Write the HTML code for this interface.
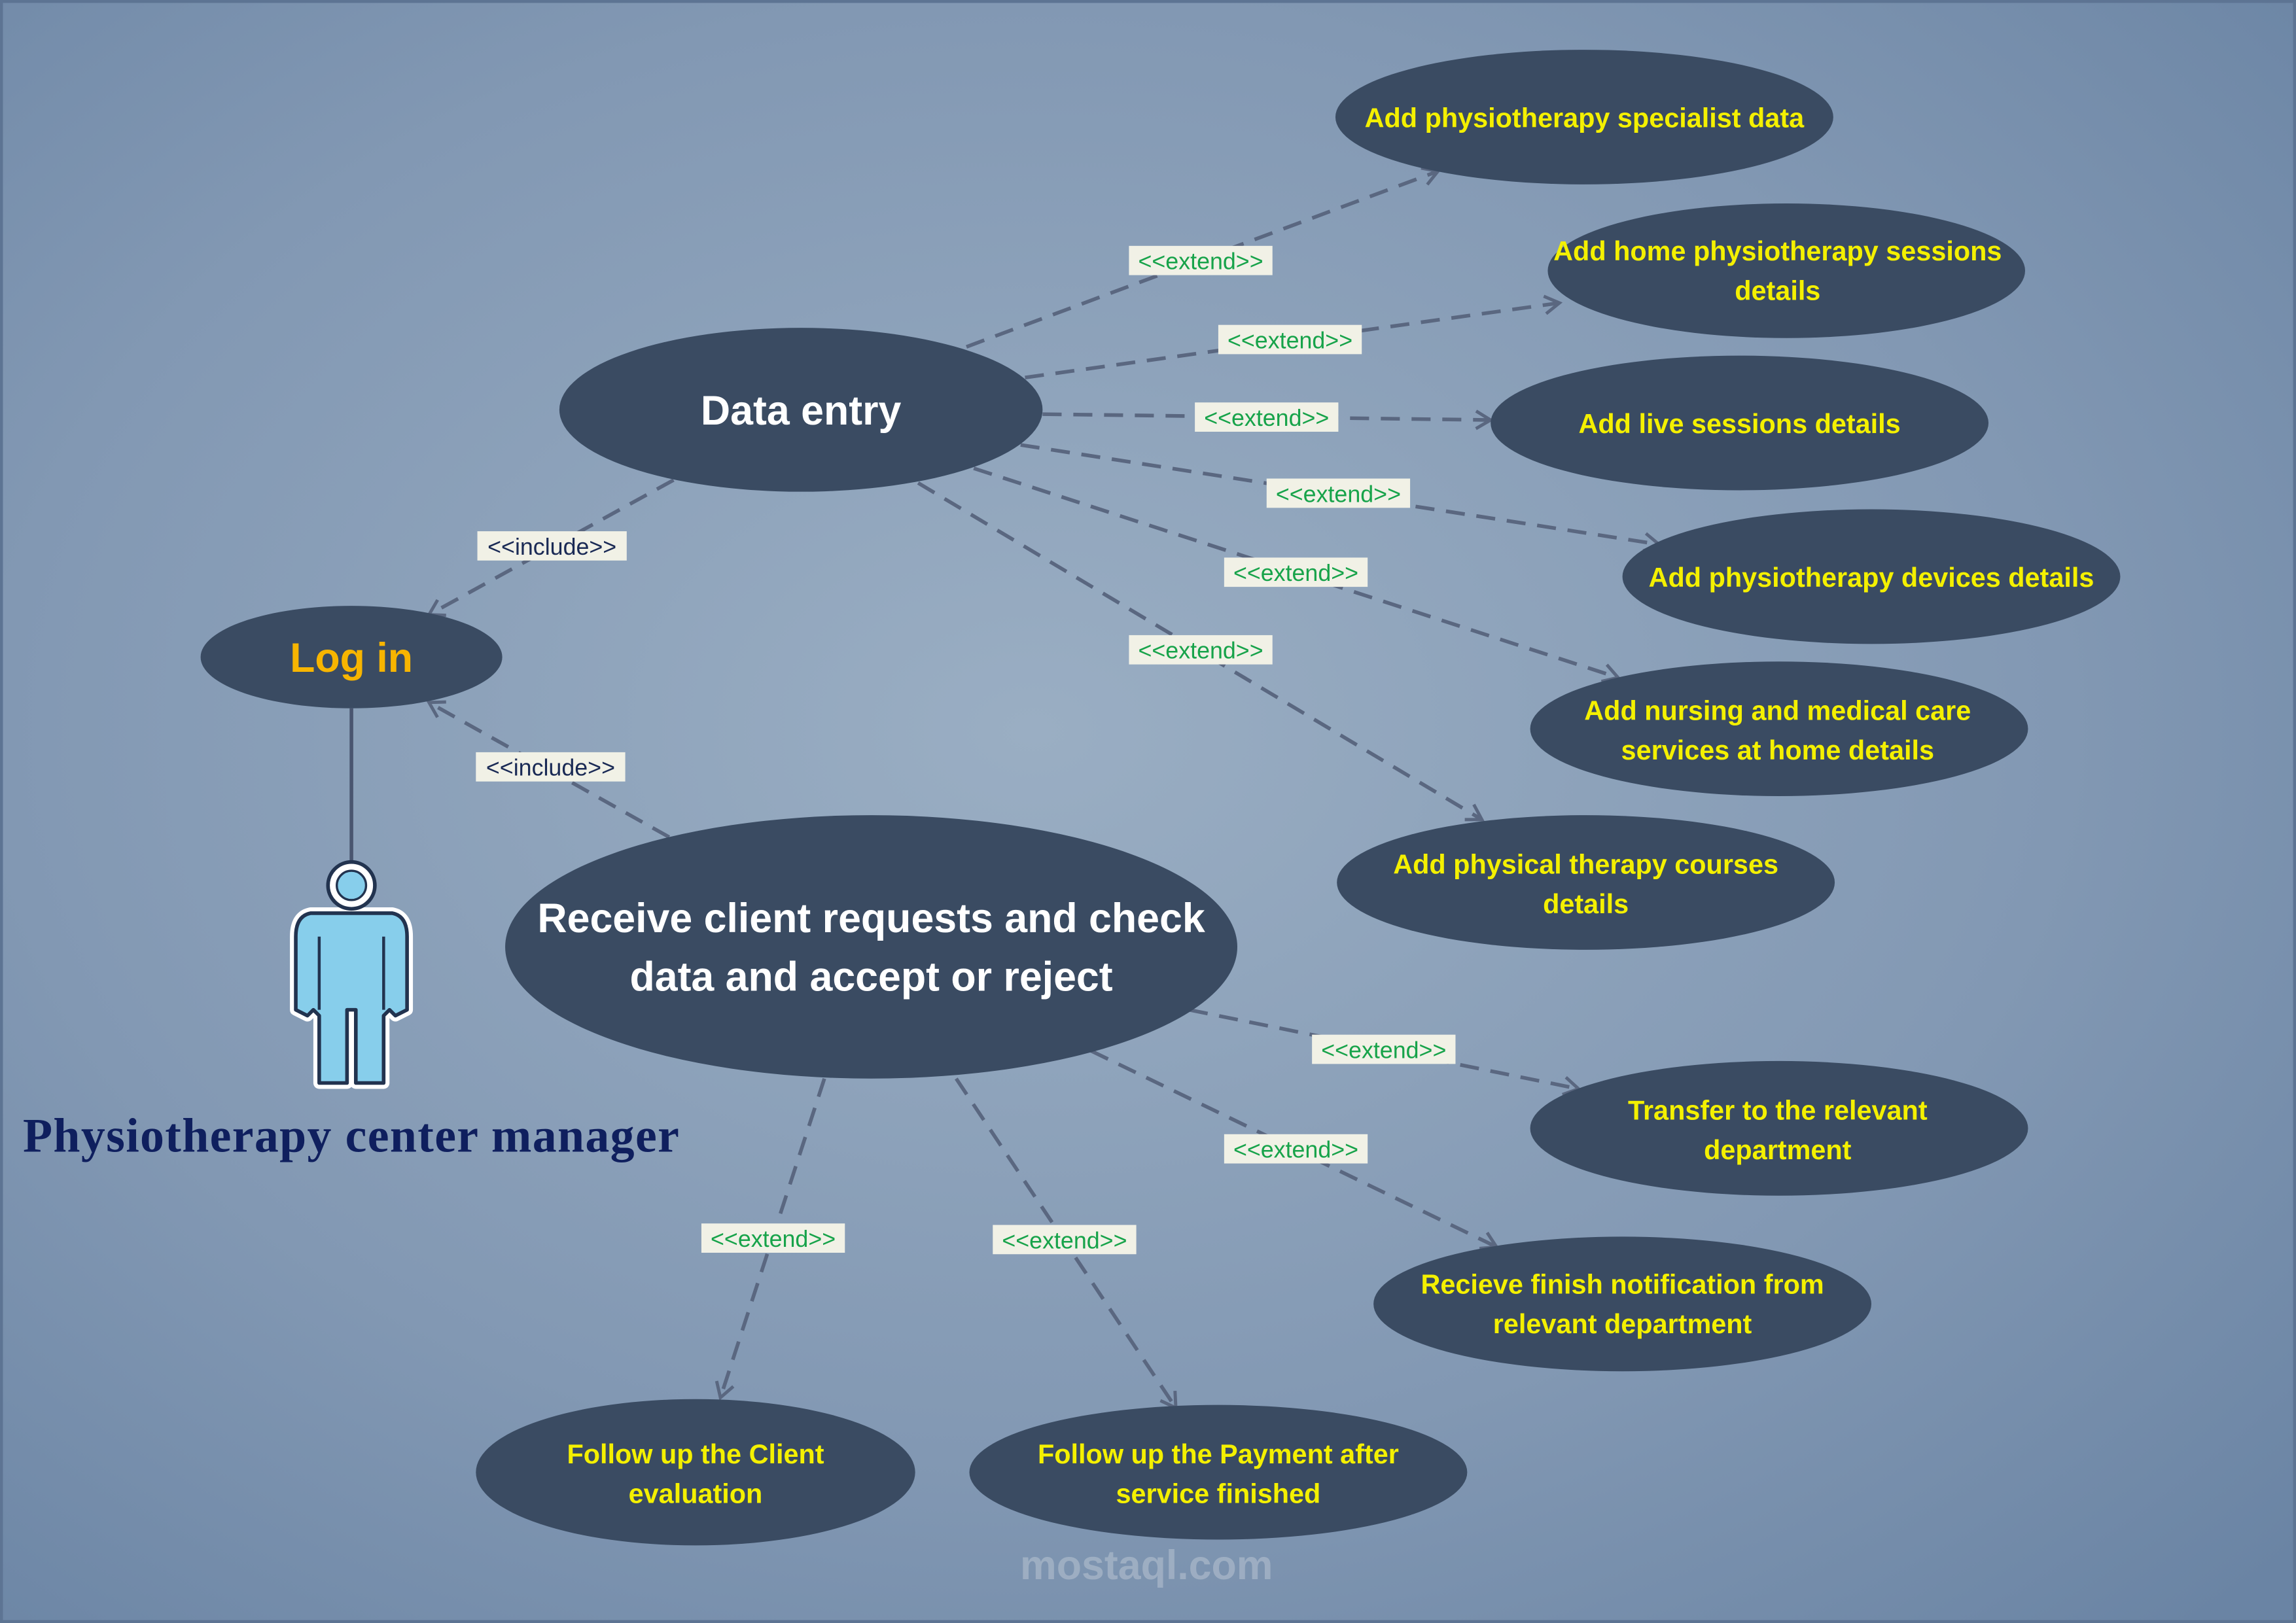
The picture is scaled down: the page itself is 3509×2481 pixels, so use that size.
<!DOCTYPE html>
<html><head><meta charset="utf-8"><style>
html,body{margin:0;padding:0;width:3509px;height:2481px;overflow:hidden}
svg{display:block}
</style></head><body>
<svg width="3509" height="2481" viewBox="0 0 1568 1109" preserveAspectRatio="none" xmlns="http://www.w3.org/2000/svg" font-family="'Liberation Sans', sans-serif">
<defs>
<radialGradient id="bg" cx="0.45" cy="0.45" r="0.75">
<stop offset="0" stop-color="#9aaec3"/>
<stop offset="0.6" stop-color="#8298b3"/>
<stop offset="1" stop-color="#6a84a4"/>
</radialGradient>
<marker id="ar" markerWidth="14" markerHeight="14" refX="11" refY="7" orient="auto" markerUnits="userSpaceOnUse">
<path d="M1,1 L11,7 L1,13" fill="none" stroke="#5a6780" stroke-width="2.2"/>
</marker>
</defs>
<rect x="0" y="0" width="1568" height="1109" fill="url(#bg)"/>
<rect x="1" y="1" width="1566" height="1107" fill="none" stroke="#5d7493" stroke-width="2"/>

<g stroke="#5a6780" stroke-width="2.5" stroke-dasharray="13 8" fill="none" marker-end="url(#ar)">
<line x1="660" y1="237" x2="982" y2="117"/>
<line x1="700" y1="258" x2="1065" y2="207"/>
<line x1="712" y1="283" x2="1018" y2="287"/>
<line x1="697" y1="304" x2="1133" y2="372"/>
<line x1="665" y1="320" x2="1105" y2="463"/>
<line x1="627" y1="330" x2="1012" y2="560"/>
<line x1="460" y1="328" x2="293" y2="420"/>
<line x1="457" y1="572" x2="293" y2="480"/>
<line x1="812" y1="690" x2="1078" y2="744"/>
<line x1="745" y1="718" x2="1022" y2="852"/>
<line x1="563" y1="737" x2="492" y2="955"/>
<line x1="653" y1="737" x2="803" y2="962"/>
</g>
<line x1="240" y1="484" x2="240" y2="590" stroke="#4a5670" stroke-width="2.5"/>

<g fill="#3a4b62">
<ellipse cx="547" cy="280" rx="165" ry="56"/>
<ellipse cx="240" cy="449" rx="103" ry="35"/>
<ellipse cx="595" cy="647" rx="250" ry="90"/>
<ellipse cx="1082" cy="80" rx="170" ry="46"/>
<ellipse cx="1220" cy="185" rx="163" ry="46"/>
<ellipse cx="1188" cy="289" rx="170" ry="46"/>
<ellipse cx="1278" cy="394" rx="170" ry="46"/>
<ellipse cx="1215" cy="498" rx="170" ry="46"/>
<ellipse cx="1083" cy="603" rx="170" ry="46"/>
<ellipse cx="1215" cy="771" rx="170" ry="46"/>
<ellipse cx="1108" cy="891" rx="170" ry="46"/>
<ellipse cx="475" cy="1006" rx="150" ry="50"/>
<ellipse cx="832" cy="1006" rx="170" ry="46"/>
</g>

<g text-anchor="middle" font-weight="bold">
<text x="547" y="290" fill="#fff" font-size="28">Data entry</text>
<text x="240" y="459" fill="#f7b500" font-size="28">Log in</text>
<text x="595" y="637" fill="#fff" font-size="28">Receive client requests and check</text>
<text x="595" y="677" fill="#fff" font-size="28">data and accept or reject</text>
<g fill="#f4f000" font-size="18.5">
<text x="1082" y="87">Add physiotherapy specialist data</text>
<text x="1214" y="178">Add home physiotherapy sessions</text>
<text x="1214" y="205">details</text>
<text x="1188" y="296">Add live sessions details</text>
<text x="1278" y="401">Add physiotherapy devices details</text>
<text x="1214" y="492">Add nursing and medical care</text>
<text x="1214" y="519">services at home details</text>
<text x="1083" y="597">Add physical therapy courses</text>
<text x="1083" y="624">details</text>
<text x="1214" y="765">Transfer to the relevant</text>
<text x="1214" y="792">department</text>
<text x="1108" y="884">Recieve finish notification from</text>
<text x="1108" y="911">relevant department</text>
<text x="475" y="1000">Follow up the Client</text>
<text x="475" y="1027">evaluation</text>
<text x="832" y="1000">Follow up the Payment after</text>
<text x="832" y="1027">service finished</text>
</g>
</g>

<g font-size="16" text-anchor="middle">
<g fill="#f1f1e6">
<rect x="771" y="168" width="98" height="20"/>
<rect x="832" y="222" width="98" height="20"/>
<rect x="816" y="275" width="98" height="20"/>
<rect x="865" y="327" width="98" height="20"/>
<rect x="836" y="381" width="98" height="20"/>
<rect x="771" y="434" width="98" height="20"/>
<rect x="896" y="707" width="98" height="20"/>
<rect x="836" y="775" width="98" height="20"/>
<rect x="479" y="836" width="98" height="20"/>
<rect x="678" y="837" width="98" height="20"/>
<rect x="326" y="363" width="102" height="20"/>
<rect x="325" y="514" width="102" height="20"/>
</g>
<g fill="#17a34a">
<text x="820" y="184">&lt;&lt;extend&gt;&gt;</text>
<text x="881" y="238">&lt;&lt;extend&gt;&gt;</text>
<text x="865" y="291">&lt;&lt;extend&gt;&gt;</text>
<text x="914" y="343">&lt;&lt;extend&gt;&gt;</text>
<text x="885" y="397">&lt;&lt;extend&gt;&gt;</text>
<text x="820" y="450">&lt;&lt;extend&gt;&gt;</text>
<text x="945" y="723">&lt;&lt;extend&gt;&gt;</text>
<text x="885" y="791">&lt;&lt;extend&gt;&gt;</text>
<text x="528" y="852">&lt;&lt;extend&gt;&gt;</text>
<text x="727" y="853">&lt;&lt;extend&gt;&gt;</text>
</g>
<g fill="#1a2a55">
<text x="377" y="379">&lt;&lt;include&gt;&gt;</text>
<text x="376" y="530">&lt;&lt;include&gt;&gt;</text>
</g>
</g>

<!-- actor -->
<g stroke-linejoin="round">
<path d="M212,624 L268,624 Q278,626 278,640 L278,690 L270,694 L266,690 L262,694 L262,740 L243,740 L243,690 L237,690 L237,740 L218,740 L218,694 L214,690 L210,694 L202,690 L202,640 Q202,626 212,624 Z" fill="#fff" stroke="#fff" stroke-width="8"/>
<path d="M212,624 L268,624 Q278,626 278,640 L278,690 L270,694 L266,690 L262,694 L262,740 L243,740 L243,690 L237,690 L237,740 L218,740 L218,694 L214,690 L210,694 L202,690 L202,640 Q202,626 212,624 Z" fill="#87ceeb" stroke="#22334f" stroke-width="2.5"/>
<line x1="218" y1="640" x2="218" y2="690" stroke="#22334f" stroke-width="2"/>
<line x1="262" y1="640" x2="262" y2="690" stroke="#22334f" stroke-width="2"/>
<circle cx="240" cy="605" r="16" fill="#fff" stroke="#22334f" stroke-width="2.5"/>
<circle cx="240" cy="605" r="10" fill="#87ceeb" stroke="#22334f" stroke-width="1.5"/>
</g>
<text x="240" y="787" text-anchor="middle" font-family="'Liberation Serif', serif" font-weight="bold" font-size="33" letter-spacing="0.6" fill="#0f1f5e">Physiotherapy center manager</text>

<text x="783" y="1079" text-anchor="middle" font-size="28" font-weight="bold" fill="#b8c4d2" opacity="0.55">mostaql.com</text>
</svg>
</body></html>
